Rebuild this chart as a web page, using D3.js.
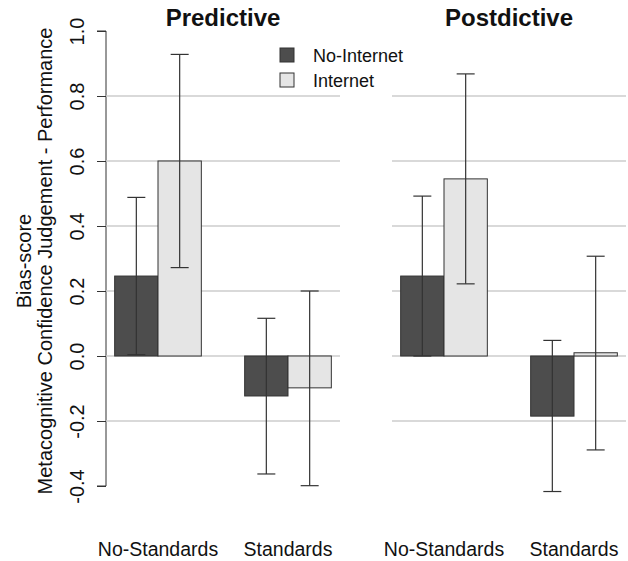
<!DOCTYPE html>
<html>
<head>
<meta charset="utf-8">
<script src="https://cdn.jsdelivr.net/npm/d3@7"></script>
<style>
  body { margin: 0; background: #fff; }
  svg { display: block; font-family: "Liberation Sans", Arial, sans-serif; }
</style>
</head>
<body>
<svg id="chart"></svg>
<script>
// data
const panels = ["Predictive", "Postdictive"];
const groups = ["No-Standards", "Standards"];
const series = ["No-Internet", "Internet"];
const colors = ["#4d4d4d", "#e5e5e5"];

const predNoInternet = [0.246, -0.123];
const predNoInternetLow = [0.004, -0.363];
const predNoInternetHigh = [0.488, 0.116];
const predInternet = [0.600, -0.098];
const predInternetLow = [0.272, -0.399];
const predInternetHigh = [0.928, 0.200];

const postNoInternet = [0.246, -0.185];
const postNoInternetLow = [0.000, -0.417];
const postNoInternetHigh = [0.492, 0.048];
const postInternet = [0.545, 0.010];
const postInternetLow = [0.222, -0.289];
const postInternetHigh = [0.868, 0.307];

const yTicks = [-0.4, -0.2, 0.0, 0.2, 0.4, 0.6, 0.8, 1.0];
const gridTicks = [-0.2, 0.0, 0.2, 0.4, 0.6, 0.8];

const width = 628;
const height = 561;
const panelX = [106, 392];
const panelW = 234;

let svg = d3.select("#chart").attr("width", width).attr("height", height);

// build rows for each panel
function makeRows(means, lows, highs) {
    let rows = [];
    groups.forEach((g, gi) => {
        series.forEach((s, si) => {
            rows.push({ group: g, series: s, si: si,
                value: means[si][gi], low: lows[si][gi], high: highs[si][gi] });
        });
    });
    return rows;
}

const panelData = [
    makeRows([predNoInternet, predInternet],
             [predNoInternetLow, predInternetLow],
             [predNoInternetHigh, predInternetHigh]),
    makeRows([postNoInternet, postInternet],
             [postNoInternetLow, postInternetLow],
             [postNoInternetHigh, postInternetHigh])
];

let scaleY = d3.scaleLinear().domain([-0.4, 1.0]).range([486, 31]);

// y axis on the left panel only (plain hyphen for negatives)
let axisY = d3.axisLeft(scaleY).tickValues(yTicks).tickFormat((d) => d.toFixed(1)).tickSize(9);
let gy = svg.append("g").attr("transform", `translate(${panelX[0]}, 0)`).call(axisY);
gy.select(".domain").attr("d", `M-9,${scaleY(-0.4)}H0V${scaleY(1.0)}H-9`).attr("stroke", "#333");
gy.selectAll(".tick line").attr("stroke", "#333");
gy.selectAll(".tick text")
    .attr("font-size", 20)
    .attr("font-family", "'Liberation Sans', Arial, sans-serif")
    .attr("fill", "#111")
    .attr("x", 0).attr("y", 0).attr("dy", 0)
    .attr("text-anchor", "middle")
    .attr("transform", "translate(-22,0) rotate(-90)");

// y title, two lines
const yTitle = svg.append("text")
    .attr("transform", `translate(31, 261) rotate(-90)`)
    .attr("text-anchor", "middle")
    .attr("font-size", 20)
    .attr("fill", "#111");
yTitle.append("tspan").attr("x", 0).attr("dy", 0).text("Bias-score");
yTitle.append("tspan").attr("x", 0).attr("dy", 21).text("Metacognitive Confidence Judgement - Performance");

panels.forEach((p, pi) => {
    let x0 = panelX[pi];
    let scaleX = d3.scaleBand()
        .domain(groups)
        .range([x0, x0 + panelW])
        .paddingInner(1 / 3)
        .paddingOuter(0.2 / 3);
    let scaleS = d3.scaleBand().domain(series).range([0, scaleX.bandwidth()]);

    let g = svg.append("g");

    // gridlines behind bars
    g.selectAll(".grid")
        .data(gridTicks)
        .enter()
        .append("line")
        .attr("x1", x0)
        .attr("x2", x0 + panelW)
        .attr("y1", (d) => scaleY(d))
        .attr("y2", (d) => scaleY(d))
        .attr("stroke", "#cccccc")
        .attr("stroke-width", 1.5);

    // bars
    g.selectAll(".bar")
        .data(panelData[pi])
        .enter()
        .append("rect")
        .attr("x", (d) => scaleX(d.group) + scaleS(d.series))
        .attr("width", scaleS.bandwidth())
        .attr("y", (d) => scaleY(Math.max(0, d.value)))
        .attr("height", (d) => Math.abs(scaleY(d.value) - scaleY(0)))
        .attr("fill", (d) => colors[d.si])
        .attr("stroke", "#333")
        .attr("stroke-width", 1);

    // error bars
    const cap = 9;
    let eb = g.selectAll(".err")
        .data(panelData[pi])
        .enter()
        .append("g")
        .attr("stroke", "#333")
        .attr("stroke-width", 1.2);
    let cx = (d) => scaleX(d.group) + scaleS(d.series) + scaleS.bandwidth() / 2;
    eb.append("line")
        .attr("x1", cx).attr("x2", cx)
        .attr("y1", (d) => scaleY(d.low)).attr("y2", (d) => scaleY(d.high));
    eb.append("line")
        .attr("x1", (d) => cx(d) - cap).attr("x2", (d) => cx(d) + cap)
        .attr("y1", (d) => scaleY(d.high)).attr("y2", (d) => scaleY(d.high));
    eb.append("line")
        .attr("x1", (d) => cx(d) - cap).attr("x2", (d) => cx(d) + cap)
        .attr("y1", (d) => scaleY(d.low)).attr("y2", (d) => scaleY(d.low));

    // panel title
    svg.append("text")
        .attr("x", x0 + panelW / 2)
        .attr("y", 26)
        .attr("text-anchor", "middle")
        .attr("font-size", 24)
        .attr("font-weight", "bold")
        .attr("fill", "#111")
        .text(p);

    // group labels
    svg.selectAll(".glab" + pi)
        .data(groups)
        .enter()
        .append("text")
        .attr("x", (d) => scaleX(d) + scaleX.bandwidth() / 2)
        .attr("y", 556)
        .attr("text-anchor", "middle")
        .attr("font-size", 19.5)
        .attr("fill", "#111")
        .text((d) => d);
});

// legend
let legend = svg.append("g").attr("transform", "translate(280, 48)");
series.forEach((s, i) => {
    legend.append("rect")
        .attr("x", 0).attr("y", i * 25)
        .attr("width", 14).attr("height", 14)
        .attr("fill", colors[i])
        .attr("stroke", "#333");
    legend.append("text")
        .attr("x", 33).attr("y", i * 25 + 13.5)
        .attr("font-size", 18)
        .attr("fill", "#111")
        .text(s);
});
</script>
</body>
</html>
